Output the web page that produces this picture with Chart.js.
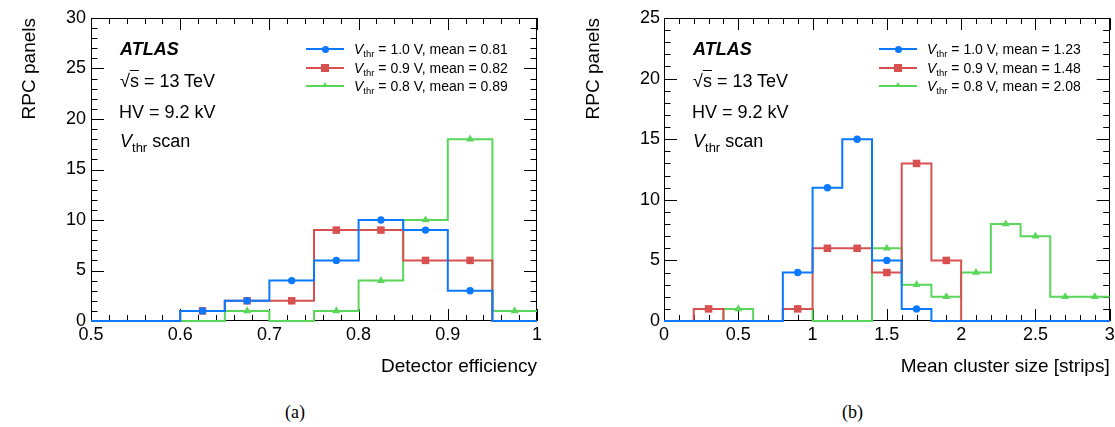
<!DOCTYPE html>
<html><head><meta charset="utf-8">
<script src="https://cdn.jsdelivr.net/npm/chart.js@4.4.1/dist/chart.umd.min.js"></script>
<style>
html,body{margin:0;padding:0;background:#fff;width:1115px;height:427px;overflow:hidden;position:relative;font-family:"Liberation Sans",Arial,Helvetica,sans-serif;color:#000;}
canvas{position:absolute;top:0;}
.t{position:absolute;white-space:nowrap;font-size:18px;line-height:20px;}
.lgt{position:absolute;white-space:nowrap;font-size:14px;line-height:16px;}
.sub18{font-size:13px;position:relative;top:5px;}
.sub14{font-size:9.5px;position:relative;top:3px;}
.ln{position:absolute;height:2px;width:38px;}
.cap{position:absolute;font-family:"Liberation Serif","Times New Roman",serif;font-size:18px;line-height:20px;}
</style></head>
<body>
<canvas id="c1" width="557" height="395" style="left:0"></canvas>
<canvas id="c2" width="558" height="395" style="left:557px"></canvas>
<div id="overlay"></div>
<script>
// ---------- data ----------
const effEdges = [0.5,0.55,0.6,0.65,0.7,0.75,0.8,0.85,0.9,0.95,1.0];
const effV10 = [0,0,1,2,4,6,10,9,3,0];
const effV09 = [0,0,1,2,2,9,9,6,6,0];
const effV08 = [0,0,0,1,0,1,4,10,18,1];

const cluEdges = [0,0.2,0.4,0.6,0.8,1.0,1.2,1.4,1.6,1.8,2.0,2.2,2.4,2.6,2.8,3.0];
const cluV10 = [0,0,0,0,4,11,15,5,1,0,0,0,0,0,0];
const cluV09 = [0,1,0,0,1,6,6,4,13,5,0,0,0,0,0];
const cluV08 = [0,0,1,0,1,0,0,6,3,2,4,8,7,2,2];

const thresholds = ['1.0 V','0.9 V','0.8 V'];
const effMeans = ['0.81','0.82','0.89'];
const cluMeans = ['1.23','1.48','2.08'];

const effXTicks = [0.5,0.6,0.7,0.8,0.9,1];
const effYTicks = [0,5,10,15,20,25,30];
const cluXTicks = [0,0.5,1,1.5,2,2.5,3];
const cluYTicks = [0,5,10,15,20,25];

// ---------- styles ----------
const FONT = '"Liberation Sans", Arial, Helvetica, sans-serif';
const styles = [
  {color:'#0a78ff', point:'circle', r:3.7},
  {color:'#d95050', point:'rect', r:5.3},
  {color:'#5ad65a', point:'triangle', r:4.6}
];

function stepPts(edges, vals){
  const p = vals.map((v,i)=>({x:edges[i], y:v}));
  p.push({x:edges[edges.length-1], y:vals[vals.length-1]});
  return p;
}
function markerPts(edges, vals){
  return vals.map((v,i)=>({x:(edges[i]+edges[i+1])/2, y:v})).filter(p=>p.y>0);
}

const frameTicks = {
  id:'frameTicks',
  beforeDatasetsDraw(chart, args, o){
    const {ctx, chartArea:a, scales:{x,y}} = chart;
    ctx.save();
    ctx.strokeStyle='#000'; ctx.lineWidth=1;
    ctx.beginPath();
    const L=12, l=6;
    const nx = Math.round((o.xmax-o.xmin)/o.xMinor);
    for(let i=0;i<=nx;i++){
      const v=o.xmin+i*o.xMinor;
      const r=v/o.xMajor; const major=Math.abs(r-Math.round(r))<1e-6;
      const px=Math.round(x.getPixelForValue(v))+0.5;
      const len=major?L:l;
      ctx.moveTo(px,a.bottom); ctx.lineTo(px,a.bottom-len);
      ctx.moveTo(px,a.top); ctx.lineTo(px,a.top+len);
    }
    const ny = Math.round(o.ymax/o.yMinor);
    for(let i=0;i<=ny;i++){
      const v=i*o.yMinor;
      const major=(v%o.yMajor)===0;
      const py=Math.round(y.getPixelForValue(v))+0.5;
      const len=major?L+1:l+0.5;
      ctx.moveTo(a.left,py); ctx.lineTo(a.left+len,py);
      ctx.moveTo(a.right,py); ctx.lineTo(a.right-len,py);
    }
    ctx.stroke();
    ctx.strokeRect(Math.round(a.left)+0.5, Math.round(a.top)+0.5, Math.round(a.right-a.left)-1, Math.round(a.bottom-a.top)-1);
    ctx.restore();
  }
};

function makeChart(id, edges, series, xTicks, yTicks, xTitle, g){
  const datasets=[];
  series.forEach((vals,k)=>{
    datasets.push({type:'scatter', data:markerPts(edges,vals), showLine:false,
      pointStyle:styles[k].point, pointRadius:styles[k].r, pointBackgroundColor:styles[k].color,
      pointBorderColor:styles[k].color, pointBorderWidth:0, clip:false});
  });
  series.forEach((vals,k)=>{
    datasets.push({type:'line', data:stepPts(edges,vals), stepped:'before', pointRadius:0,
      borderColor:styles[k].color, borderWidth:2, fill:false, tension:0, clip:3});
  });
  const tickFmt = v => String(+(+v).toFixed(2));
  return new Chart(document.getElementById(id), {
    type:'line',
    data:{datasets},
    options:{
      responsive:false, animation:false, events:[],
      layout:{padding:{left:0, top:18, right:g.padRight, bottom:0}},
      plugins:{legend:{display:false}, tooltip:{enabled:false}, frameTicks:g.ft},
      scales:{
        x:{type:'linear', min:xTicks[0], max:xTicks[xTicks.length-1],
          afterBuildTicks:s=>{ s.ticks = xTicks.map(v=>({value:v})); },
          afterFit:s=>{ s.height=g.xH; s.paddingLeft=0; s.paddingRight=0; },
          grid:{display:false, drawTicks:false}, border:{display:false},
          ticks:{color:'#000', padding:3, maxRotation:0, autoSkip:false, font:{family:FONT, size:18}, callback:tickFmt},
          title:{display:true, text:xTitle, align:'end', color:'#000', font:{family:FONT, size:19}, padding:{top:0,bottom:g.xTitlePad}}
        },
        y:{type:'linear', min:0, max:yTicks[yTicks.length-1],
          afterBuildTicks:s=>{ s.ticks = yTicks.map(v=>({value:v})); },
          afterFit:s=>{ s.width=g.yW; s.paddingTop=0; s.paddingBottom=0; },
          grid:{display:false, drawTicks:false}, border:{display:false},
          ticks:{color:'#000', padding:g.yTickPad, autoSkip:false, font:{family:FONT, size:18}, callback:tickFmt},
          title:{display:true, text:'RPC panels', align:'end', color:'#000', font:{family:FONT, size:19}, padding:{top:g.yTitlePad,bottom:0}}
        }
      }
    },
    plugins:[frameTicks]
  });
}

makeChart('c1', effEdges, [effV10,effV09,effV08], effXTicks, effYTicks, 'Detector efficiency',
  {padRight:20, xH:74, yW:91, xTitlePad:16.5, yTitlePad:18, yTickPad:5,
   ft:{xmin:0.5,xmax:1,xMinor:0.02,xMajor:0.1,ymax:30,yMinor:1,yMajor:5}});
makeChart('c2', cluEdges, [cluV10,cluV09,cluV08], cluXTicks, cluYTicks, 'Mean cluster size [strips]',
  {padRight:3, xH:74, yW:107, xTitlePad:16.5, yTitlePad:25, yTickPad:4,
   ft:{xmin:0,xmax:3,xMinor:0.1,xMajor:0.5,ymax:25,yMinor:1,yMajor:5}});

// ---------- text overlays ----------
const ov = document.getElementById('overlay');
function add(html, cls, left, top){
  const d=document.createElement('div'); d.className=cls; d.style.left=left+'px'; d.style.top=top+'px'; d.innerHTML=html; ov.appendChild(d); return d;
}
function panelText(x0){
  add('<b><i>ATLAS</i></b>','t',x0,39);
  add('&radic;<span style="text-decoration:overline">s</span> = 13 TeV','t',x0,71);
  add('HV = 9.2 kV','t',x0-1,102);
  add('<i>V</i><span class="sub18">thr</span> scan','t',x0,131);
}
function legend(xLine, xText, means){
  const rows=[49,68,86];
  rows.forEach((yc,k)=>{
    const ln=add('','ln',xLine,yc-1); ln.style.background=styles[k].color;
    const m=document.createElement('div'); m.style.position='absolute';
    const cx=xLine+19;
    if(k===0){ m.style.cssText+=`left:${cx-3.5}px;top:${yc-3.5}px;width:7px;height:7px;border-radius:50%;background:${styles[0].color};`; }
    if(k===1){ m.style.cssText+=`left:${cx-4}px;top:${yc-4}px;width:8px;height:8px;background:${styles[1].color};`; }
    if(k===2){ m.style.cssText+=`left:${cx-3}px;top:${yc-4}px;width:0;height:0;border-left:3px solid transparent;border-right:3px solid transparent;border-bottom:5px solid ${styles[2].color};`; }
    ov.appendChild(m);
    add(`<i>V</i><span class="sub14">thr</span> = ${thresholds[k]}, mean = ${means[k]}`,'lgt',xText,yc-8);
  });
}
panelText(120); panelText(693);
legend(306,354,effMeans); legend(879,927,cluMeans);
add('(a)','cap',285,402);
add('(b)','cap',842,402);
</script>
</body></html>
